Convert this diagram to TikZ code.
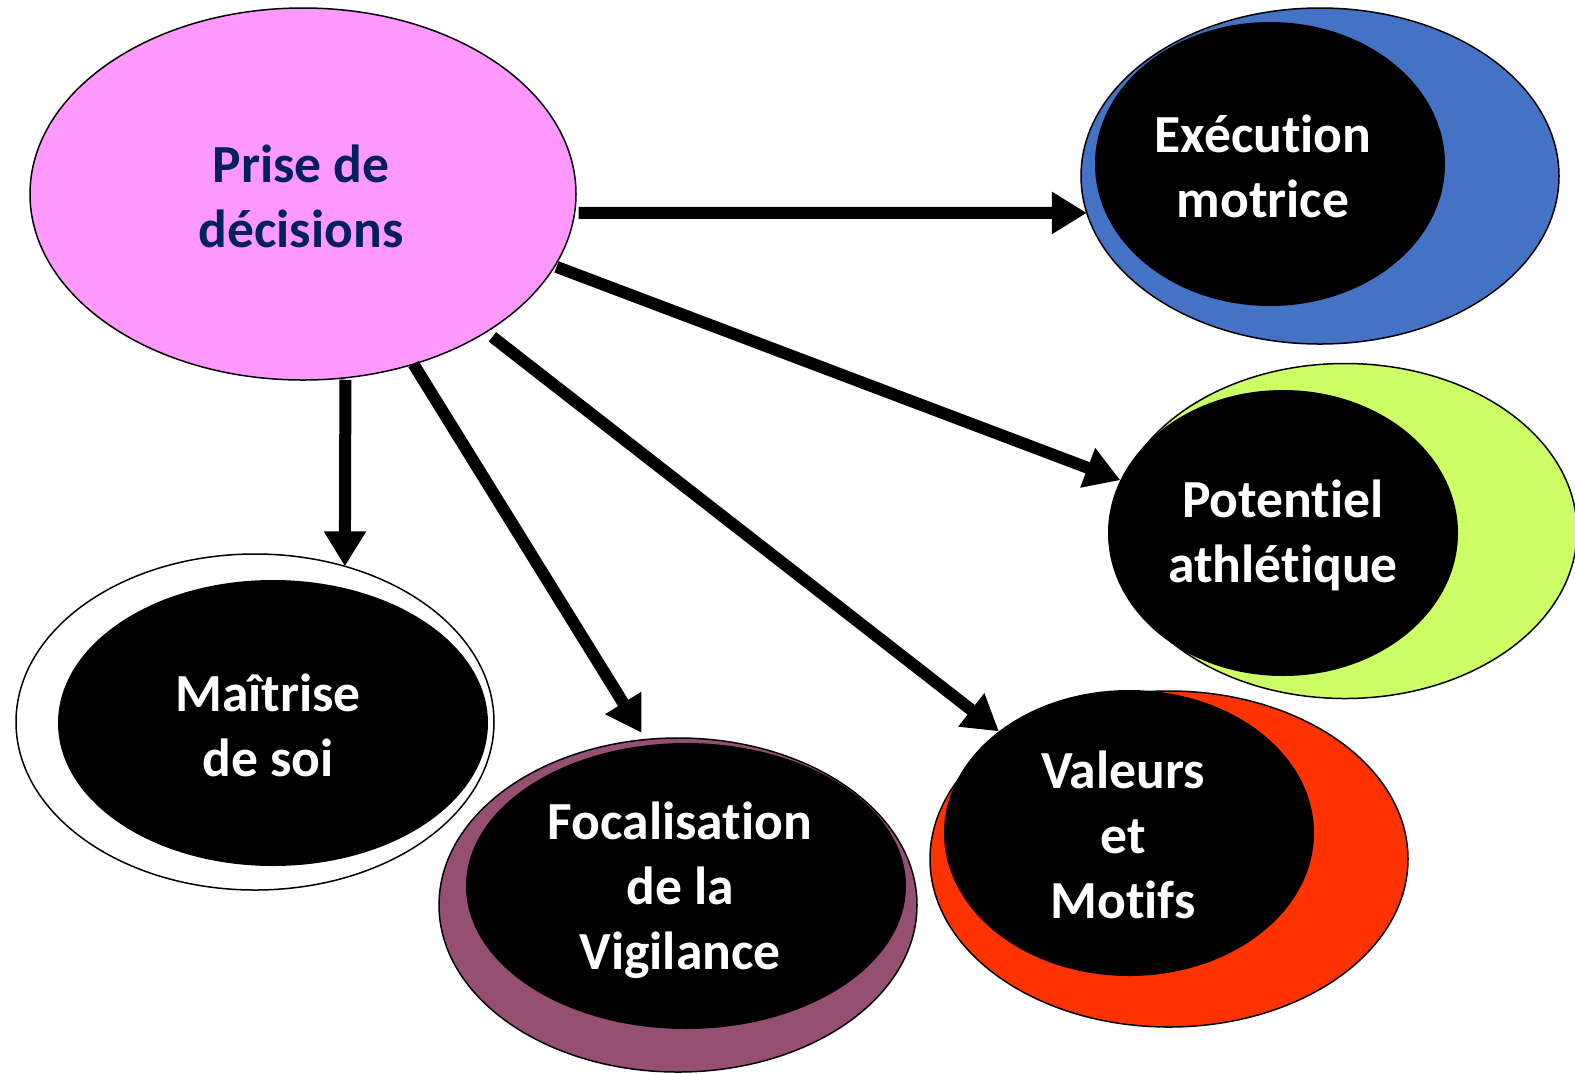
\documentclass[tikz,border=0pt]{standalone}
\usepackage{fontspec}
\setmainfont{Carlito}[Ligatures=NoCommon]
\usetikzlibrary{shapes.geometric,arrows.meta}
\definecolor{pinkfill}{HTML}{FF99FF}
\definecolor{bluefill}{HTML}{4472C4}
\definecolor{greenfill}{HTML}{CCFF66}
\definecolor{redfill}{HTML}{FF3300}
\definecolor{purplefill}{HTML}{954F72}
\definecolor{navytext}{HTML}{002060}
\begin{document}
\begin{tikzpicture}[x=0.5pt,y=-0.5pt,
  ell/.style={ellipse, inner sep=0pt, outer sep=0pt, draw=black, line width=0.75pt},
  blk/.style={ellipse, inner sep=0pt, outer sep=0pt, fill=black},
  lbl/.style={text=white, font=\fontsize{26.8}{32.5}\selectfont\bfseries, align=center, inner sep=0pt},
  arr/.style={line width=6pt, -{Triangle[length=17.5pt,width=20pt]}}]
\useasboundingbox (0,0) rectangle (1575,1073);

% Prise de decisions
\node[ell, fill=pinkfill, minimum width=273pt, minimum height=186pt] (pd) at (303,194) {};
\node[lbl, text=navytext] (tpd) at (301,196) {Prise de\\décisions};

% Execution motrice
\node[ell, fill=bluefill, minimum width=239pt, minimum height=168pt] (exo) at (1320,176) {};
\node[blk, minimum width=175pt, minimum height=142pt] (exi) at (1270,164) {};
\node[lbl] (tex) at (1263,166) {Exécution\\motrice};

% Potentiel athletique
\node[ell, fill=greenfill, minimum width=232pt, minimum height=167.5pt] (poo) at (1345,531) {};
\node[blk, minimum width=175pt, minimum height=143pt] (poi) at (1283,533) {};
\node[lbl] (tpo) at (1283,535) {Potentiel\\athlétique};

% Valeurs et Motifs
\node[ell, fill=redfill, minimum width=239pt, minimum height=168pt] (vao) at (1169,859) {};
\node[blk, minimum width=185pt, minimum height=143pt] (vai) at (1129,833) {};
\node[lbl] (tva) at (1123,835) {Valeurs\\et\\Motifs};

% Focalisation de la Vigilance
\node[ell, fill=purplefill, minimum width=239pt, minimum height=167pt] (foo) at (678,905) {};
\node[blk, minimum width=220pt, minimum height=143pt] (foi) at (686,886) {};
\node[lbl] (tfo) at (680,890) {Focalisation\\de la\\Vigilance};

% Maitrise de soi
\node[ell, fill=white, minimum width=239pt, minimum height=168pt] (mao) at (255,722) {};
\node[blk, minimum width=215pt, minimum height=143pt] (mai) at (273,723) {};
\node[lbl] (tma) at (268,725) {Maîtrise\\de soi};

% arrows
\draw[arr, shorten <=2pt] (pd.-4) -- (exo.189);
\draw[arr, shorten <=1pt] (pd.-16.5) -- (poi.162.9);
\draw[arr, shorten <=4pt] (pd.-37) -- (vai.142.4);
\draw[arr, shorten >=4pt] (pd.-57.6) -- (foo.101.4);
\draw[arr, shorten <=1pt] (pd.-77.7) -- (mao.60.7);
\end{tikzpicture}
\end{document}
